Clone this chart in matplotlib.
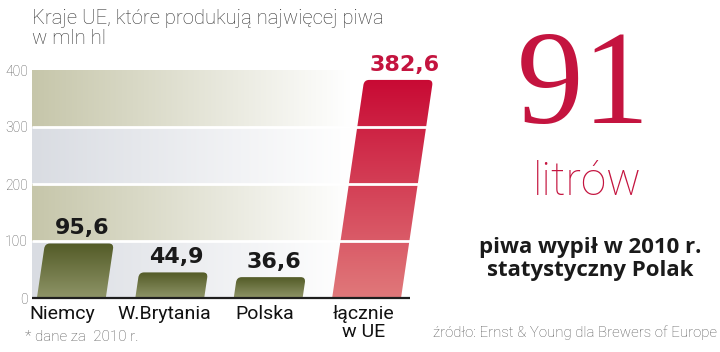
import numpy as np
import matplotlib.pyplot as plt
from matplotlib.path import Path
from matplotlib.patches import PathPatch
from matplotlib.colors import to_rgb

# data
categories = ["Niemcy", "W.Brytania", "Polska", "łącznie\nw UE"]
values = [95.6, 44.9, 36.6, 382.6]
value_labels = ["95,6", "44,9", "36,6", "382,6"]
y_ticks = [0, 100, 200, 300, 400]
title = "Kraje UE, które produkują najwięcej piwa\nw mln hl"

# colours
olive_top, olive_bottom = "#535b27", "#8e9467"
red_top, red_bottom = "#c80a34", "#e0787a"
crimson = "#c4143f"
band_khaki = "#c6c6aa"
band_grey = "#d9dce2"

fig = plt.figure(figsize=(7.2, 3.52), dpi=100)
ax = fig.add_axes([32 / 720, 54 / 352, 408 / 720, 228 / 352])
x0, x1 = -0.40, 3.746
ax.set_xlim(x0, x1)
ax.set_ylim(0, 400)

# background bands, fading to white towards the right
fade_end = 2.83
xs = np.linspace(x0, x1, 300)
t = np.clip((xs - x0) / (fade_end - x0), 0, 1)[:, None]
for lo, col in zip([0, 100, 200, 300], [band_grey, band_khaki, band_grey, band_khaki]):
    c = np.array(to_rgb(col))
    grad = c * (1 - t) + np.ones(3) * t
    ax.imshow(grad[None, :, :], extent=[x0, x1, lo, lo + 100], aspect="auto",
              zorder=0, interpolation="bilinear")


def bar_path(c, h, w=0.70, skew=0.00085, rx=0.05, ry=9.0):
    l, r = c - w / 2, c + w / 2
    verts = [(l, 0), (r, 0),
             (r + skew * (h - ry), h - ry), (r + skew * h, h), (r + skew * h - rx, h),
             (l + skew * h + rx, h), (l + skew * h, h), (l + skew * (h - ry), h - ry),
             (l, 0)]
    codes = [Path.MOVETO, Path.LINETO, Path.LINETO, Path.CURVE3, Path.CURVE3,
             Path.LINETO, Path.CURVE3, Path.CURVE3, Path.CLOSEPOLY]
    return Path(verts, codes)


skew = 0.00085
xpos = np.arange(len(values))
for i, (v, lab) in enumerate(zip(values, value_labels)):
    top, bot = (red_top, red_bottom) if i == 3 else (olive_top, olive_bottom)
    p = PathPatch(bar_path(xpos[i], v, skew=skew), facecolor="none", edgecolor="none", zorder=2)
    ax.add_patch(p)
    s = np.linspace(0, 1, 100)[:, None]
    g = np.array(to_rgb(top)) * (1 - s) + np.array(to_rgb(bot)) * s
    im = ax.imshow(g[:, None, :], extent=[xpos[i] - 0.4, xpos[i] + 0.4 + skew * v, 0, v],
                   aspect="auto", zorder=2, interpolation="bilinear")
    im.set_clip_path(p)
    ax.text(xpos[i] + skew * v + (0.06 if i == 3 else 0.03), v + 9, lab,
            ha="center", va="bottom", fontsize=16, fontweight="bold",
            family="DejaVu Sans",
            color=crimson if i == 3 else "#1a1a1a", clip_on=False)

ax.set_xlim(x0, x1)
ax.set_ylim(0, 400)

# white gridlines over everything, dark baseline
ax.hlines([100, 200, 300], x0, 3.62, colors="white", lw=2, zorder=5)
ax.hlines(0, x0, 3.44, colors="#1e1e1e", lw=1.6, zorder=6, clip_on=False)

for sp in ax.spines.values():
    sp.set_visible(False)
ax.set_yticks(y_ticks)
ax.set_yticklabels([str(v) for v in y_ticks], fontsize=10, color="#555555",
                   family="Roboto", fontweight="light")
ax.set_xticks(xpos - np.array([0.09, 0.06, 0.03, 0.03]))
ax.set_xticklabels(categories, fontsize=14, color="#111111", family="Roboto",
                   linespacing=1.0)
ax.tick_params(axis="both", length=0)
ax.tick_params(axis="y", pad=3)
ax.tick_params(axis="x", pad=5)

fig.text(32 / 720, 1 - 9 / 352, title, ha="left", va="top", fontsize=14.6,
         family="Roboto", fontweight="light", color="#333333", linespacing=1.1)
fig.text(25 / 720, 1 - 337 / 352, "* dane za  2010 r.", ha="left", va="center",
         fontsize=11, family="Roboto", fontweight="light", color="#555555")

# right panel
fig.text(583 / 720, 1 - 90 / 352, "91", ha="center", va="center", fontsize=96,
         family="Liberation Serif", color=crimson)
fig.text(587 / 720, 1 - 182 / 352, "litrów", ha="center", va="center", fontsize=33,
         family="Roboto", fontweight="light", color=crimson)
fig.text(590 / 720, 1 - 259 / 352, "piwa wypił w 2010 r.\nstatystyczny Polak",
         ha="center", va="center", fontsize=16, family="Open Sans",
         fontweight="bold", color="#1a1a1a", linespacing=1.15)
fig.text(717 / 720, 1 - 333 / 352, "źródło: Ernst & Young dla Brewers of Europe",
         ha="right", va="center", fontsize=10.8, family="Roboto", fontweight="light",
         color="#555555")

fig.savefig("out.png", dpi=100)
